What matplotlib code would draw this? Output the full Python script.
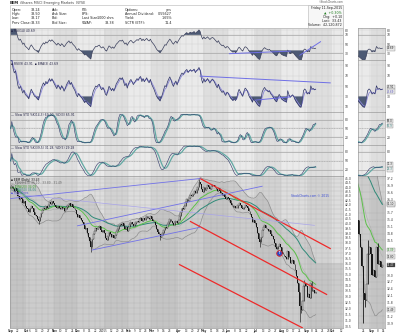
import numpy as np
import pandas as pd
import matplotlib
matplotlib.use("Agg")
import matplotlib.pyplot as plt
from matplotlib.patches import Rectangle
from matplotlib.ticker import FixedLocator, NullLocator, FuncFormatter

plt.rcParams['font.family'] = ['DejaVu Sans']

# ---------------------------------------------------------------- data
ticker = "EEM"
fund_name = "iShares MSCI Emerging Markets"
exchange = "NYSE"
first_day = "2014-09-12"
last_day = "2015-09-11"
market_holidays = ["2014-11-27", "2014-12-25", "2015-01-01", "2015-01-19",
                   "2015-02-16", "2015-04-03", "2015-05-25", "2015-07-03",
                   "2015-09-07"]

close_sep14 = [43.9, 44.1, 43.8, 43.6, 43.9, 43.5, 43.0, 42.7, 42.9, 42.6, 42.2, 42.4, 41.9]
close_oct14 = [41.7, 41.5, 41.2, 41.6, 41.9, 41.6, 41.2, 40.9, 40.8, 40.5, 40.3, 40.7,
               41.1, 41.4, 41.7, 41.5, 41.9, 41.7, 42.0, 42.3, 42.1, 42.4, 42.2]
close_nov14 = [42.0, 41.8, 41.6, 41.9, 41.7, 41.5, 41.8, 41.6, 41.3, 41.5, 41.8, 42.0,
               42.2, 41.9, 42.1, 41.8, 41.6, 41.4, 41.0]
close_dec14 = [40.7, 40.9, 40.6, 40.4, 40.2, 39.8, 39.4, 39.5, 39.0, 38.6, 38.2, 37.6,
               38.4, 38.9, 39.2, 39.5, 39.4, 39.6, 39.7, 39.3, 39.1, 39.3]
close_jan15 = [39.0, 38.5, 38.3, 38.7, 39.1, 38.9, 38.6, 38.8, 38.5, 38.8, 39.2, 39.4,
               39.7, 39.9, 39.8, 40.0, 39.7, 39.4, 39.6, 39.2]
close_feb15 = [39.6, 39.9, 40.1, 39.9, 39.7, 39.9, 40.1, 40.3, 40.2, 40.5, 40.6, 40.3,
               40.6, 40.4, 40.6, 40.8, 40.6, 40.5, 40.8]
close_mar15 = [40.5, 40.3, 40.1, 39.8, 39.4, 39.1, 38.9, 38.6, 38.8, 39.0, 39.3, 39.6,
               39.5, 39.9, 40.2, 40.5, 40.3, 40.0, 39.8, 40.1, 40.3, 40.0]
close_apr15 = [40.4, 40.8, 41.2, 41.6, 41.5, 41.9, 42.3, 42.6, 42.4, 42.8, 43.1, 43.0,
               43.2, 43.5, 43.3, 43.7, 44.0, 44.6, 44.4, 43.8, 43.4]
close_may15 = [44.0, 43.7, 43.9, 44.2, 44.0, 43.8, 44.1, 44.3, 44.2, 44.0, 43.8, 43.6,
               43.9, 43.5, 43.3, 43.1, 43.2, 42.9, 42.7, 42.9]
close_jun15 = [42.8, 42.5, 42.2, 42.0, 41.8, 41.9, 41.6, 41.7, 42.0, 42.2, 42.0, 41.7,
               41.5, 41.8, 42.0, 41.9, 41.7, 41.3, 41.0, 40.7, 40.2, 40.4]
close_jul15 = [40.0, 39.6, 39.0, 38.4, 38.1, 38.6, 39.3, 39.6, 39.8, 39.5, 39.4, 39.2,
               39.3, 38.9, 38.7, 38.4, 38.0, 37.6, 37.4, 37.7, 37.9, 37.6]
close_aug15 = [37.1, 36.9, 36.7, 36.6, 36.4, 37.2, 36.6, 36.1, 36.2, 36.3, 36.0, 35.4,
               34.8, 34.2, 33.4, 32.2, 31.9, 32.6, 33.9, 34.2, 33.9]
close_sep15 = [33.0, 33.2, 32.9, 34.2, 33.5, 33.6, 33.33, 33.43]

spike_lows = {"2014-10-15": 39.9, "2014-12-16": 37.1, "2015-03-11": 38.3,
              "2015-07-08": 37.6, "2015-08-24": 30.9, "2015-08-25": 31.6}
spike_highs = {"2015-04-27": 45.0, "2015-08-27": 34.5, "2015-09-08": 34.4}

quote_left = [("Open:", "33.24"), ("High:", "33.50"), ("Low:", "33.17"), ("Prev Close:", "33.33")]
quote_mid = [("Ask:", ""), ("Ask Size:", ""), ("Bid:", ""), ("Bid Size:", "")]
quote_mid2 = [("P/E:", ""), ("EPS:", ""), ("Last Size:", "1000 shrs"), ("VWAP:", "33.38")]
quote_right = [("Options:", "yes"), ("Annual Dividend:", "0.55627"), ("Yield:", "1.65%"),
               ("SCTR (ETF):", "11.4")]
session = ["Friday 11-Sep-2015", "\u25b2  +0.30%", "Chg:  +0.10", "Last:  33.43",
           "Volume:  42,120,872"]

# hand-drawn trend lines: ((date, value), (date, value))
red_channel = [(("2015-04-28", 45.0), ("2015-09-29", 37.45)),
               (("2015-04-16", 40.2), ("2015-09-24", 33.2)),
               (("2015-04-02", 35.9), ("2015-08-26", 30.42))]
blue_lines = [(("2014-09-12", 42.7), ("2015-04-28", 45.0)),
              (("2014-12-01", 39.75), ("2015-07-10", 44.1)),
              (("2014-12-17", 37.3), ("2015-04-28", 39.6))]
lavender_lines = [(("2014-09-12", 43.25), ("2015-09-10", 39.8))]
rsi_lines = [(("2015-06-02", 28.8), ("2015-08-12", 34.4)),
             (("2015-08-24", 25.5), ("2015-09-17", 55.0))]
rsi9_lines = [(("2015-04-28", 69.0), ("2015-09-29", 56.0)),
              (("2015-07-02", 23.0), ("2015-08-12", 29.0))]
event_marker = ("2015-07-30", 37.0)
watermark = "StockCharts.com \u00a9 2015"

# ---------------------------------------------------------------- series
all_days = pd.bdate_range(first_day, last_day)
days = all_days[~all_days.isin(pd.to_datetime(market_holidays))]
future = pd.bdate_range(pd.Timestamp(last_day) + pd.Timedelta(days=1), periods=22)
timeline = days.append(future)

closes = np.array(close_sep14 + close_oct14 + close_nov14 + close_dec14 + close_jan15 +
                  close_feb15 + close_mar15 + close_apr15 + close_may15 + close_jun15 +
                  close_jul15 + close_aug15 + close_sep15)
n = len(closes)
s = pd.Series(closes)
opens = s.shift(1).fillna(s.iloc[0]).values
highs = np.maximum(opens, closes)
lows = np.minimum(opens, closes)


def pos(d):
    return int(np.searchsorted(timeline, pd.Timestamp(d)))


for d, v in spike_lows.items():
    lows[pos(d)] = v
for d, v in spike_highs.items():
    highs[pos(d)] = v
hs, ls = pd.Series(highs), pd.Series(lows)


def rsi(series, period):
    delta = series.diff()
    gain = delta.clip(lower=0).ewm(alpha=1 / period, adjust=False).mean()
    loss = (-delta.clip(upper=0)).ewm(alpha=1 / period, adjust=False).mean()
    return (100 - 100 / (1 + gain / loss)).bfill()


def slow_sto(period, k_smooth, d_smooth):
    hh = hs.rolling(period, min_periods=1).max()
    ll = ls.rolling(period, min_periods=1).min()
    fast = (100 * (s - ll) / (hh - ll)).fillna(50)
    k = fast.rolling(k_smooth, min_periods=1).mean()
    return k, k.rolling(d_smooth, min_periods=1).mean()


rsi14 = rsi(s, 14)
rsi9 = rsi(s, 9)
rsi9_avg = rsi9.ewm(span=3).mean()
sto_k, sto_d = slow_sto(14, 3, 3)
sto2_k, sto2_d = slow_sto(39, 5, 5)
ema20 = s.ewm(span=20).mean()
ema50 = s.ewm(span=50).mean()
mid20 = s.rolling(20, min_periods=1).mean()
sd20 = s.rolling(20, min_periods=1).std().fillna(0)
bb_up, bb_lo = mid20 + 2 * sd20, mid20 - 2 * sd20
x = np.arange(n)

# ---------------------------------------------------------------- layout
W, H = 400, 335
fig = plt.figure(figsize=(W / 100, H / 100), dpi=100)
fig.patch.set_facecolor('white')


def box(x0, y0, x1, y1):
    return [x0 / W, 1 - y1 / H, (x1 - x0) / W, (y1 - y0) / H]


LX0, LX1 = 10, 343
ZX0, ZX1 = 358, 385
rows = {"rsi": (28, 60), "rsi9": (60, 112), "sto": (112, 145),
        "sto2": (145, 176), "price": (176, 328)}
FS = 2.4
months = timeline.to_period('M')
weeks = timeline.to_period('W')
week_starts = [np.where(weeks == w)[0][0] for w in weeks.unique()]
boxes_on = {}


def base_style(ax, dark, light, grid):
    for per in months.unique():
        idx = np.where(months == per)[0]
        col = dark if (per.year * 12 + per.month) % 2 else light
        ax.axvspan(idx[0] - 0.5, idx[-1] + 0.5, color=col, lw=0, zorder=0)
    for w in week_starts:
        ax.axvline(w - 0.5, color=grid, lw=0.3, zorder=0.5)
    ax.grid(axis='y', color=grid, lw=0.3, zorder=0.5)
    ax.set_axisbelow(True)
    for sp in ax.spines.values():
        sp.set_color('#8a8a8a')
        sp.set_linewidth(0.4)
    ax.yaxis.tick_right()
    ax.tick_params(axis='y', length=0, labelsize=FS - 0.2, pad=1.5, colors='#333333')
    ax.tick_params(axis='x', length=0, labelbottom=False)


def seg(ax, lines, **kw):
    for (d0, v0), (d1, v1) in lines:
        ax.plot([pos(d0), pos(d1)], [v0, v1], **kw)


def value_box(ax, yv, txt, color='#222222', face='#e8e8e8', dy=0.0):
    ax.annotate(txt, xy=(1, yv), xycoords=('axes fraction', 'data'), xytext=(1.5, dy),
                textcoords='offset points', fontsize=FS - 0.5, color=color, va='center',
                bbox=dict(boxstyle='square,pad=0.1', fc=face, ec='#777777', lw=0.25),
                annotation_clip=False, zorder=9)
    boxes_on.setdefault(id(ax), []).append((yv, dy))


def box_pair(ax, a, b, txt_a, txt_b, color_b):
    # two stacked value boxes that never sit on top of each other
    hi_first = a >= b
    value_box(ax, a, txt_a, dy=1.6 if hi_first else -1.6)
    value_box(ax, b, txt_b, color=color_b, dy=-1.6 if hi_first else 1.6)


def oscillator(ax, kind, zoom):
    if kind == "rsi":
        ax.set_ylim(15, 85)
        ax.set_yticks([30, 50, 70, 80])
        ax.axhline(70, color='#9a9a9a', lw=0.4, zorder=1)
        ax.axhline(30, color='#9a9a9a', lw=0.4, zorder=1)
        ax.fill_between(x, rsi14, 36, where=rsi14 < 36, color='#4d5a74', lw=0, interpolate=True, zorder=2)
        ax.fill_between(x, rsi14, 70, where=rsi14 > 70, color='#4d5a74', lw=0, interpolate=True, zorder=2)
        ax.plot(x, rsi14, color='#3a3f5c', lw=0.5, zorder=3)
        if not zoom:
            seg(ax, rsi_lines, color='#6f6fe6', lw=0.7, zorder=4)
        else:
            value_box(ax, rsi14.iloc[-1], f"{rsi14.iloc[-1]:.2f}")
        label = f"\u25aa RSI(14) {rsi14.iloc[-1]:.2f}"
    elif kind == "rsi9":
        ax.set_ylim(0, 100)
        ax.set_yticks([10, 30, 50, 70, 90])
        ax.fill_between(x, rsi9, 30, where=rsi9 < 30, color='#4d5a74', lw=0, interpolate=True, zorder=2)
        ax.plot(x, rsi9_avg, color='#8a86d8', lw=0.6, zorder=3)
        ax.plot(x, rsi9, color='#2f3568', lw=0.5, zorder=3)
        if not zoom:
            seg(ax, rsi9_lines, color='#6f6fe6', lw=0.7, zorder=4)
        else:
            box_pair(ax, rsi9.iloc[-1], rsi9_avg.iloc[-1], f"{rsi9.iloc[-1]:.2f}",
                     f"{rsi9_avg.iloc[-1]:.2f}", '#5a56b8')
        label = f"\u25aa RSI(9) {rsi9.iloc[-1]:.2f}  \u25aa EMA(3) {rsi9_avg.iloc[-1]:.2f}"
    else:
        k, d = (sto_k, sto_d) if kind == "sto" else (sto2_k, sto2_d)
        if kind == "sto":
            ax.set_ylim(-8, 108)
        else:
            ax.set_ylim(0, 103)
        ax.set_yticks([20, 50, 80])
        for lvl in (20, 80):
            ax.axhline(lvl, color='#9a9a9a', lw=0.4, zorder=1)
        ax.axhline(50, color='#9a9a9a', lw=0.4, ls=(0, (2, 1)), zorder=1)
        ax.plot(x, d, color='#62a9a4', lw=0.9, zorder=3)
        ax.plot(x, k, color='#2b3566', lw=0.4, zorder=3)
        if zoom:
            box_pair(ax, k.iloc[-1], d.iloc[-1], f"{k.iloc[-1]:.1f}", f"{d.iloc[-1]:.1f}", '#3f8883')
        per = "14,3" if kind == "sto" else "39,5"
        dd = "3" if kind == "sto" else "5"
        label = f"\u2014 Slow STO %K({per}) {k.iloc[-1]:.2f}, %D({dd}) {d.iloc[-1]:.2f}"
    ax.yaxis.set_major_formatter(FuncFormatter(lambda v, p: f"{v:.0f}"))
    if not zoom:
        ax.text(0.003, 0.97, label, transform=ax.transAxes, fontsize=FS - 0.2,
                va='top', ha='left', color='#222244', zorder=6)


def price_panel(ax, zoom):
    ax.fill_between(np.arange(len(timeline)),
                    np.r_[bb_up.values, np.full(len(future), bb_up.values[-1])],
                    20, color='#8c8c8c', alpha=0.2, lw=0, zorder=0.6)
    ax.plot(x, bb_up, color='#8f8f8f', lw=0.5, zorder=2)
    ax.plot(x, bb_lo, color='#8f8f8f', lw=0.5, zorder=2)
    ax.plot(x, mid20, color='#b0b0b0', lw=0.4, zorder=2)
    ax.plot(x, ema50, color='#2f8a78', lw=0.7, zorder=2)
    ax.plot(x, ema20, color='#5cc04a', lw=0.7, zorder=2)
    width = 0.72
    up = closes >= opens
    ax.vlines(x, lows, highs, color='#1a1a1a', lw=0.45 if not zoom else 0.6, zorder=3)
    ax.bar(x[~up], (opens - closes)[~up], bottom=closes[~up], width=width,
           color='#151515', lw=0, zorder=4)
    ax.bar(x[up], np.maximum((closes - opens)[up], 0.03), bottom=opens[up], width=width,
           facecolor='#eeeeee', edgecolor='#151515', lw=0.25, zorder=4)
    if not zoom:
        seg(ax, red_channel, color='#ee2a2a', lw=0.9, zorder=5)
        seg(ax, blue_lines, color='#7272e8', lw=0.6, zorder=5)
        seg(ax, lavender_lines, color='#a9a4ea', lw=0.5, zorder=5)
        ax.scatter([pos(event_marker[0])], [event_marker[1]], s=16, marker='o',
                   facecolor='#2a49c8', edgecolor='#e02020', lw=0.6, zorder=7)
        ax.text(pos(event_marker[0]), event_marker[1], "\u2191", color='white',
                fontsize=2.6, ha='center', va='center', zorder=8, fontweight='bold')
        ax.text(0.845, 0.87, watermark, transform=ax.transAxes, fontsize=FS - 0.2,
                color='#3a4cd8', ha='left', va='center', zorder=6)
        legend = [("\u25aa EEM (Daily) %.2f" % closes[-1], '#111111'),
                  ("\u2014 BB(20,2.0) %.2f - %.2f - %.2f" % (bb_up.iloc[-1], mid20.iloc[-1], bb_lo.iloc[-1]), '#666666'),
                  ("\u2014 EMA(20) %.2f" % ema20.iloc[-1], '#3aa030'),
                  ("\u2014 EMA(50) %.2f" % ema50.iloc[-1], '#2f8a78'),
                  ("\u25aa Trendlines", '#5050d0')]
        for i, (t, c) in enumerate(legend):
            ax.text(0.004, 0.985 - i * 0.021, t, transform=ax.transAxes, fontsize=FS - 0.3,
                    color=c, va='top', ha='left', zorder=6)
    else:
        value_box(ax, min(ema50.iloc[-1], 37.0), f"{ema50.iloc[-1]:.2f}", color='#2f8a78')
        value_box(ax, bb_up.iloc[-1], f"{bb_up.iloc[-1]:.2f}")
        value_box(ax, ema20.iloc[-1], f"{ema20.iloc[-1]:.2f}", color='#2f8a28')
        value_box(ax, mid20.iloc[-1], f"{mid20.iloc[-1]:.2f}")
        value_box(ax, closes[-1], f"{closes[-1]:.2f}", color='white', face='#333333')
        value_box(ax, bb_lo.iloc[-1], f"{bb_lo.iloc[-1]:.2f}")


def x_labels(ax, lo_idx, hi_idx):
    ticks, labels = [], []
    month_first = [np.where(months == p)[0][0] for p in months.unique()]
    for w in week_starts:
        if lo_idx <= w <= hi_idx and all(abs(w - m) > 2 for m in month_first):
            ticks.append(w)
            labels.append(str(timeline[w].day))
    for m in month_first:
        if lo_idx <= m <= hi_idx:
            ticks.append(m)
            t = timeline[m]
            labels.append(str(t.year) if t.month == 1 else t.strftime('%b'))
    ax.set_xticks(ticks)
    ax.set_xticklabels(labels)
    ax.tick_params(axis='x', labelbottom=True, labelsize=FS - 0.4, pad=1, colors='#333333')
    for tl in ax.get_xticklabels():
        if not tl.get_text().isdigit():
            tl.set_fontweight('bold')


def thin_ticks(ax, height_px):
    # drop the scale labels that a value box would cover
    lo, hi = ax.get_ylim()
    marks = boxes_on.get(id(ax), [])
    keep = []
    for t in ax.get_yticks():
        if not (lo <= t <= hi):
            continue
        ty = (t - lo) / (hi - lo) * height_px
        if all(abs(ty - ((b - lo) / (hi - lo) * height_px + dy * 100 / 72)) > 4.2 for b, dy in marks):
            keep.append(t)
    ax.yaxis.set_major_locator(FixedLocator(keep))


main_xlim = (-0.5, len(timeline) - 0.5)
zoom_xlim = (n - 17.5, n + 0.8)

for zoom, (x0, x1) in ((False, (LX0, LX1)), (True, (ZX0, ZX1))):
    for kind in ("rsi", "rsi9", "sto", "sto2"):
        y0, y1 = rows[kind]
        ax = fig.add_axes(box(x0, y0, x1, y1))
        base_style(ax, '#dedede', '#eaeaea', '#cfcfcf')
        oscillator(ax, kind, zoom)
        ax.set_xlim(*(zoom_xlim if zoom else main_xlim))
        if zoom:
            thin_ticks(ax, y1 - y0)
    y0, y1 = rows["price"]
    ax = fig.add_axes(box(x0, y0, x1, y1))
    base_style(ax, '#d2d2d2', '#dddddd', '#bdbdbd')
    price_panel(ax, zoom)
    if zoom:
        ax.set_xlim(*zoom_xlim)
        ax.set_ylim(30.7, 37.3)
        ax.yaxis.set_major_locator(FixedLocator(np.arange(30.9, 37.21, 0.3)))
        thin_ticks(ax, y1 - y0)
        x_labels(ax, int(zoom_xlim[0]) + 1, n + 1)
    else:
        ax.set_xlim(*main_xlim)
        ax.set_yscale('log')
        ax.set_ylim(30.4, 45.3)
        ax.yaxis.set_major_locator(FixedLocator(np.arange(30.5, 45.01, 0.5)))
        x_labels(ax, 0, len(timeline) - 1)
    ax.yaxis.set_minor_locator(NullLocator())
    ax.yaxis.set_major_formatter(FuncFormatter(lambda v, p: f"{v:.1f}"))

# ---------------------------------------------------------------- header
def ftext(px, py, txt, **kw):
    kw.setdefault('fontsize', FS)
    kw.setdefault('color', '#222222')
    fig.text(px / W, 1 - py / H, txt, va='center', **kw)


ftext(10, 2.6, ticker, fontweight='bold', fontsize=FS + 0.4)
ftext(20, 2.6, f"{fund_name}  {exchange}", fontsize=FS, color='#444444')
ftext(343, 2.2, "\u00a9StockCharts.com", fontsize=FS - 0.5, color='#555555', ha='right')
fig.add_artist(Rectangle((10 / W, 1 - 27.5 / H), (343 - 10) / W, 22.5 / H,
                         transform=fig.transFigure, facecolor='white', edgecolor='#b5b5b5', lw=0.4))
fig.add_artist(Rectangle((308 / W, 1 - 27.5 / H), (343 - 308) / W, 22.5 / H,
                         transform=fig.transFigure, facecolor='#f7f7f7', edgecolor='#b5b5b5', lw=0.4))
row_y = [10, 14.2, 18.4, 22.6]
for i, (lab, val) in enumerate(quote_left):
    ftext(12, row_y[i], lab)
    ftext(40, row_y[i], val, ha='right')
for i, (lab, val) in enumerate(quote_mid):
    ftext(52, row_y[i], lab)
for i, (lab, val) in enumerate(quote_mid2):
    ftext(82, row_y[i], lab)
    ftext(114, row_y[i], val, ha='right')
for i, (lab, val) in enumerate(quote_right):
    ftext(125, row_y[i], lab)
    ftext(172, row_y[i], val, ha='right')
for i, t in enumerate(session):
    ftext(342, 8 + i * 4.3, t, ha='right', fontsize=FS - 0.1,
          color='#1a7a1a' if i == 1 else '#222222')

fig.savefig("out.png", dpi=100, facecolor='white')
